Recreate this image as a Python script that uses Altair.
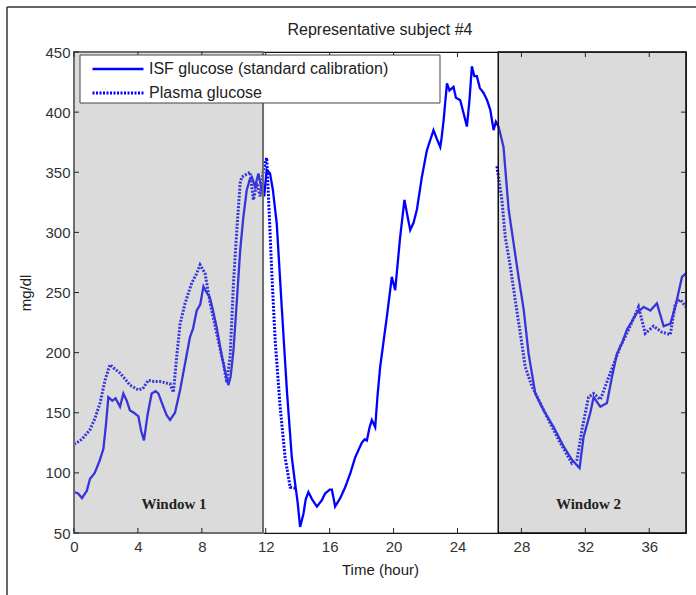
import altair as alt
import pandas as pd

# ---------------- data ----------------
series_names = ["ISF glucose (standard calibration)", "Plasma glucose"]

isf_hour = [0.0, 0.25, 0.5, 0.8, 1.0, 1.3, 1.6, 1.84, 2.0, 2.15, 2.4, 2.6, 2.88, 3.09, 3.3, 3.5,
            3.75, 4.03, 4.2, 4.38, 4.6, 4.86, 5.1, 5.28, 5.59, 5.8, 6.01, 6.32, 6.64, 6.95, 7.26,
            7.45, 7.68, 7.9, 8.1, 8.3, 8.5, 8.7, 8.93, 9.25, 9.45, 9.66, 9.8, 9.98, 10.19, 10.4,
            10.6, 10.81, 11.0, 11.13, 11.33, 11.54, 11.75, 11.9, 12.06, 12.27, 12.45, 12.69, 13.0,
            13.32, 13.63, 13.84, 14.0, 14.15, 14.36, 14.5, 14.67, 14.9, 15.2, 15.5, 15.72, 16.0,
            16.14, 16.3, 16.34, 16.66, 16.97, 17.3, 17.6, 18.01, 18.2, 18.33, 18.5, 18.64, 18.85,
            19.0, 19.16, 19.37, 19.6, 19.89, 20.1, 20.41, 20.68, 20.85, 21.04, 21.25, 21.46, 21.77,
            22.08, 22.3, 22.5, 22.7, 22.92, 23.0, 23.13, 23.34, 23.5, 23.75, 23.9, 24.17, 24.4,
            24.59, 24.75, 24.9, 25.05, 25.21, 25.4, 25.63, 25.85, 26.05, 26.26, 26.4, 26.57,
            26.88, 27.2, 27.51, 27.82, 28.14, 28.45, 28.87, 29.39, 30.02, 30.64, 31.16, 31.64,
            31.89, 32.1, 32.31, 32.52, 32.94, 33.35, 33.67, 33.98, 34.3, 34.6, 35.23, 35.65,
            36.07, 36.48, 36.9, 37.32, 37.63, 38.05, 38.3]
isf_mg = [84, 83, 79, 85, 95, 100, 110, 120, 140, 163, 160, 162, 155, 166, 160, 152,
          150, 147, 135, 127, 148, 166, 168, 166, 155, 148, 144, 150, 169, 191, 213,
          220, 235, 240, 255, 250, 246, 235, 221, 197, 185, 173, 180, 202, 243, 285,
          313, 335, 344, 346, 338, 349, 335, 330, 352, 349, 335, 307, 238,
          169, 113, 91, 75, 55, 66, 78, 84, 78, 72, 77, 83, 86,
          86, 75, 72, 79, 88, 100, 113, 125, 128, 127, 138, 144, 138,
          165, 188, 209, 232, 263, 252, 296, 327, 315, 302, 308, 319, 346,
          368, 377, 385, 378, 371, 378, 393, 424, 418, 421, 412, 410, 398,
          388, 410, 438, 430, 430, 420, 416, 410, 402, 385, 392, 388,
          371, 319, 291, 263, 236, 199, 166, 152, 138, 122, 111, 104,
          130, 140, 150, 163, 155, 158, 180, 199, 208, 219, 233, 238,
          235, 241, 222, 224, 238, 263, 266]

plasma_w1_hour = [0.0, 0.17, 0.5, 1.0, 1.3, 1.63, 1.94, 2.25, 2.5, 2.88, 3.2, 3.5, 4.03, 4.3,
                  4.65, 5.0, 5.38, 6.01, 6.22, 6.43, 6.64, 6.95, 7.37, 7.65, 7.89, 8.2, 8.52,
                  8.93, 9.35, 9.56, 9.77, 9.98, 10.19, 10.4, 10.5, 10.75, 11.02, 11.23, 11.44,
                  11.65, 11.85, 12.06, 12.17, 12.38, 12.59, 12.9, 13.21, 13.53, 13.95]
plasma_w1_mg = [124, 125, 128, 136, 145, 158, 177, 190, 187, 183, 178, 173, 169, 170,
                177, 176, 176, 174, 167, 197, 224, 241, 258, 265, 273, 266, 241,
                216, 191, 175, 197, 258, 302, 341, 346, 348, 350, 327, 341,
                330, 352, 362, 330, 266, 210, 155, 113, 88, 87]
plasma_w2_hour = [26.47, 26.57, 26.78, 26.99, 27.3, 27.61, 27.93, 28.24, 28.66, 29.18, 29.81,
                  30.43, 31.16, 31.48, 31.79, 32.2, 32.52, 32.94, 33.56, 34.19, 34.81, 35.33,
                  35.75, 36.27, 36.79, 37.32, 37.63, 37.95, 38.3]
plasma_w2_mg = [355, 346, 327, 296, 272, 244, 216, 188, 172, 158, 141,
                125, 108, 111, 136, 163, 166, 161, 183, 205, 222, 238,
                216, 222, 217, 215, 241, 244, 238]

x_ticks = [0, 4, 8, 12, 16, 20, 24, 28, 32, 36]
y_ticks = [50, 100, 150, 200, 250, 300, 350, 400, 450]

window_names = ["Window 1", "Window 2"]
window_start = [0, 26.55]
window_end = [11.83, 38.3]
window_label_hour = [6.26, 32.2]
window_label_mg = [74, 74]

# ---------------- tables ----------------
lines_df = pd.concat([
    pd.DataFrame({"hour": isf_hour, "mg": isf_mg, "series": series_names[0], "seg": "isf"}),
    pd.DataFrame({"hour": plasma_w1_hour, "mg": plasma_w1_mg, "series": series_names[1], "seg": "p1"}),
    pd.DataFrame({"hour": plasma_w2_hour, "mg": plasma_w2_mg, "series": series_names[1], "seg": "p2"}),
], ignore_index=True)
win_df = pd.DataFrame({"name": window_names, "start": window_start, "end": window_end,
                       "lh": window_label_hour, "lm": window_label_mg})
xt_df = pd.DataFrame({"t": x_ticks})
yt_df = pd.DataFrame({"t": y_ticks})

W, H = 612, 481
FONT = "Liberation Sans"
BLUE = "#0000ff"
xs = alt.Scale(domain=[0, 38.3], nice=False, zero=False)
ys = alt.Scale(domain=[50, 450], nice=False, zero=False)

x_axis = alt.Axis(
    values=x_ticks, ticks=False, domain=False, grid=False, labelFlush=False,
    labelFont=FONT, labelFontSize=15, labelColor="#333", labelPadding=6,
    title="Time (hour)", titleFont=FONT, titleFontSize=15, titleFontWeight="normal",
    titleColor="#222", titlePadding=8)
y_axis = alt.Axis(
    values=y_ticks, ticks=False, domain=False, grid=False, labelFlush=False,
    labelFont=FONT, labelFontSize=15, labelColor="#333", labelPadding=4,
    title="mg/dl", titleFont=FONT, titleFontSize=15, titleFontWeight="normal",
    titleColor="#222", titlePadding=11)

legend = alt.Legend(
    orient="none", legendX=6, legendY=3, title=None,
    symbolType="M-5.1,0H5.1", symbolSize=100, symbolOffset=24, symbolStrokeColor=BLUE,
    labelFont=FONT, labelFontSize=16, labelColor="#222", labelOffset=23, labelLimit=0,
    padding=6, rowPadding=8,
)

lines = alt.Chart(lines_df).mark_line(color=BLUE, strokeCap="butt").encode(
    x=alt.X("hour:Q", scale=xs, axis=x_axis),
    y=alt.Y("mg:Q", scale=ys, axis=y_axis),
    detail="seg:N",
    strokeDash=alt.StrokeDash("series:N", scale=alt.Scale(domain=series_names, range=[[1, 0], [2, 1.5]]),
                              legend=legend),
    strokeWidth=alt.StrokeWidth("series:N", scale=alt.Scale(domain=series_names, range=[2.3, 3]),
                                legend=legend),
)

win1 = alt.Chart(win_df).transform_filter(alt.datum.name == "Window 1").mark_rect(
    fill="#999999", fillOpacity=0.35, stroke="#6e6e6e", strokeWidth=2).encode(
    x=alt.X("start:Q", scale=xs, axis=x_axis), x2="end:Q",
    y=alt.datum(450, scale=ys, axis=y_axis), y2=alt.datum(50))
win2 = alt.Chart(win_df).transform_filter(alt.datum.name == "Window 2").mark_rect(
    fill="#999999", fillOpacity=0.35, stroke="#111", strokeWidth=1.5).encode(
    x=alt.X("start:Q", scale=xs, axis=x_axis), x2="end:Q",
    y=alt.datum(450, scale=ys, axis=y_axis), y2=alt.datum(50))

win_text = alt.Chart(win_df).mark_text(font="Liberation Serif", fontWeight="bold", fontSize=15,
                                       color="#222").encode(
    x=alt.X("lh:Q", scale=xs, axis=x_axis), y=alt.Y("lm:Q", scale=ys, axis=y_axis), text="name:N")

TK = 5
tick_col = "#222"
xb = alt.Chart(xt_df).mark_rule(color=tick_col).encode(
    x=alt.X("t:Q", scale=xs, axis=x_axis), y=alt.value(H), y2=alt.value(H - TK))
xtop = alt.Chart(xt_df).mark_rule(color=tick_col).encode(
    x=alt.X("t:Q", scale=xs, axis=x_axis), y=alt.value(0), y2=alt.value(TK))
yl = alt.Chart(yt_df).mark_rule(color=tick_col).encode(
    y=alt.Y("t:Q", scale=ys, axis=y_axis), x=alt.value(0), x2=alt.value(TK))
yr = alt.Chart(yt_df).mark_rule(color=tick_col).encode(
    y=alt.Y("t:Q", scale=ys, axis=y_axis), x=alt.value(W), x2=alt.value(W - TK))

# legend box (frame behind the legend entries)
legend_box = alt.Chart(xt_df.head(1)).mark_rect(fill="white", stroke="#444", strokeWidth=1).encode(
    x=alt.value(6), x2=alt.value(366), y=alt.value(3), y2=alt.value(51))

# outer figure frame (left and top edges visible in the reference)
frame_left = alt.Chart(xt_df.head(1)).mark_rule(color="#333", strokeWidth=1.5).encode(
    x=alt.value(-67), y=alt.value(-45), y2=alt.value(H + 70))
frame_top = alt.Chart(xt_df.head(1)).mark_rule(color="#333", strokeWidth=1.5).encode(
    x=alt.value(-67), x2=alt.value(W + 20), y=alt.value(-45))

chart = alt.layer(lines, win1, win2, win_text, xb, xtop, yl, yr, legend_box,
                  frame_left, frame_top).properties(
    width=W, height=H,
    title=alt.TitleParams("Representative subject #4", font=FONT, fontSize=16, fontWeight="normal",
                          color="#222", offset=-32),
    padding={"left": 74, "top": 52, "right": 10, "bottom": 62},
    autosize="none",
    background="white",
).configure_view(stroke="#111", strokeWidth=1.2)

chart.save("out.html", embed_options={"renderer": "svg", "actions": False})
